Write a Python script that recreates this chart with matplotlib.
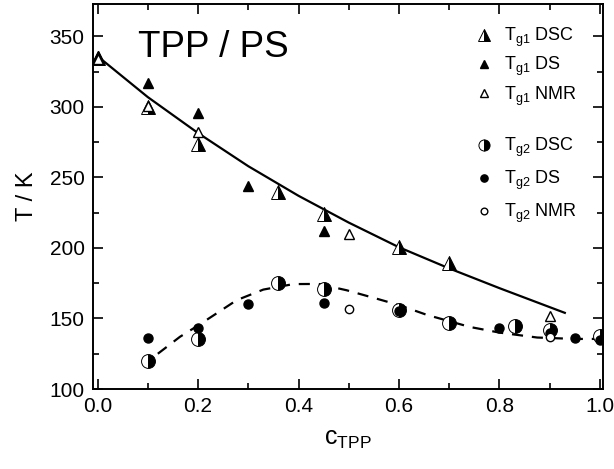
import matplotlib
matplotlib.use("Agg")
import matplotlib.pyplot as plt
from matplotlib.ticker import MultipleLocator

plt.rcParams['font.family'] = ['Liberation Sans', 'DejaVu Sans']
plt.rcParams['mathtext.fontset'] = 'custom'
plt.rcParams['mathtext.rm'] = 'Liberation Sans'
plt.rcParams['mathtext.it'] = 'Liberation Sans'

# ---- data ----
tg1_dsc_x = [0.0, 0.1, 0.2, 0.36, 0.45, 0.6, 0.7]
tg1_dsc_y = [335, 300, 274, 239.5, 224, 201, 189]
tg1_ds_x = [0.0, 0.1, 0.2, 0.3, 0.45]
tg1_ds_y = [336, 317, 296, 244, 212]
tg1_nmr_x = [0.0, 0.1, 0.2, 0.5, 0.9]
tg1_nmr_y = [334, 301, 282, 210, 152]

tg2_dsc_x = [0.1, 0.2, 0.36, 0.45, 0.6, 0.7, 0.83, 0.9, 1.0]
tg2_dsc_y = [120, 135.5, 175, 171, 156, 147, 145, 142, 137.5]
tg2_ds_x = [0.1, 0.2, 0.3, 0.45, 0.6, 0.8, 0.9, 0.95, 1.0]
tg2_ds_y = [136, 143, 160, 161, 155.5, 143, 140, 136, 135]
tg2_nmr_x = [0.5, 0.9]
tg2_nmr_y = [157, 137]

fit1_x = [0.0, 0.1, 0.2, 0.3, 0.4, 0.5, 0.6, 0.7, 0.8, 0.93]
fit1_y = [336, 307, 281.5, 258, 237, 218, 200.5, 185.5, 171.5, 154]

fit2_x = [0.12, 0.164, 0.2, 0.23, 0.277, 0.33, 0.39, 0.44, 0.496, 0.556,
          0.6, 0.656, 0.741, 0.8, 0.875, 0.95, 1.0]
fit2_y = [125, 137, 145, 152, 163, 170.5, 174.4, 174.5, 170, 164,
          159.5, 152.5, 144, 140, 136.5, 135.5, 135.5]

xticks = [0.0, 0.2, 0.4, 0.6, 0.8, 1.0]
yticks = [100, 150, 200, 250, 300, 350]

fig = plt.figure(figsize=(6.14, 4.69), dpi=100)
ax = fig.add_axes([93/614, 80/469, 510/614, 385/469])

ax.plot(fit1_x, fit1_y, '-', color='black', lw=1.6, zorder=1)
ax.plot(fit2_x, fit2_y, '--', color='black', lw=1.6, dashes=(5, 4), zorder=1)

half = dict(fillstyle='right', markerfacecolor='black', markerfacecoloralt='white',
            markeredgecolor='black', markeredgewidth=0.7, linestyle='none')

h1, = ax.plot(tg1_dsc_x, tg1_dsc_y, marker='^', markersize=10, **half)
h2, = ax.plot(tg1_ds_x, tg1_ds_y, marker='^', markersize=6.5, color='black', linestyle='none')
h3, = ax.plot(tg1_nmr_x, tg1_nmr_y, marker='^', markersize=6.5, markerfacecolor='white',
              markeredgecolor='black', markeredgewidth=1.0, linestyle='none')
h4, = ax.plot(tg2_dsc_x, tg2_dsc_y, marker='o', markersize=10, **half)
h5, = ax.plot(tg2_ds_x, tg2_ds_y, marker='o', markersize=6.5, color='black', linestyle='none')
h6, = ax.plot(tg2_nmr_x, tg2_nmr_y, marker='o', markersize=6, markerfacecolor='white',
              markeredgecolor='black', markeredgewidth=1.0, linestyle='none')

ax.set_xlim(-0.009, 1.006)
ax.set_ylim(100, 373)
ax.set_xticks(xticks)
ax.set_yticks(yticks)
ax.set_xticklabels([f"{v:.1f}" for v in xticks])
ax.set_yticklabels([str(v) for v in yticks])
ax.xaxis.set_minor_locator(MultipleLocator(0.1))
ax.yaxis.set_minor_locator(MultipleLocator(25))
ax.tick_params(which='both', direction='in', top=True, right=True, labelsize=15, width=1.2)
ax.tick_params(which='major', length=7, pad=6)
ax.tick_params(which='minor', length=4)
for s in ax.spines.values():
    s.set_linewidth(1.4)

ax.set_xlabel(r"c$_{\mathrm{TPP}}$", fontsize=18, labelpad=8)
ax.set_ylabel("T / K", fontsize=17, labelpad=8)
ax.text(0.08, 342, "TPP / PS", fontsize=26.5, va='center', ha='left')

leg1 = ax.legend([h1, h2, h3],
                 [r"T$_{\mathrm{g1}}$ DSC", r"T$_{\mathrm{g1}}$ DS", r"T$_{\mathrm{g1}}$ NMR"],
                 loc='upper left', bbox_to_anchor=(0.713, 0.985), frameon=False,
                 fontsize=13, handlelength=1.2, handletextpad=0.55, labelspacing=0.33,
                 markerscale=0.8)
ax.add_artist(leg1)
ax.legend([h4, h5, h6],
          [r"T$_{\mathrm{g2}}$ DSC", r"T$_{\mathrm{g2}}$ DS", r"T$_{\mathrm{g2}}$ NMR"],
          loc='upper left', bbox_to_anchor=(0.713, 0.7), frameon=False,
          fontsize=13, handlelength=1.2, handletextpad=0.55, labelspacing=0.55,
          markerscale=0.8)

fig.savefig("out.png", dpi=100)
